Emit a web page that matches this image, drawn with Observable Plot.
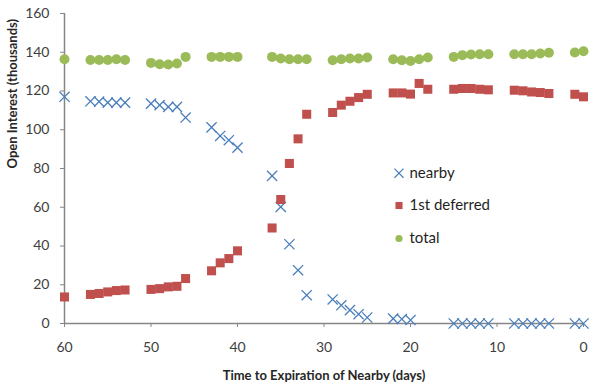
<!DOCTYPE html>
<html>
<head>
<meta charset="utf-8">
<script src="https://cdn.jsdelivr.net/npm/d3@7"></script>
<script src="https://cdn.jsdelivr.net/npm/@observablehq/plot@0.6"></script>
<style>
  html, body { margin: 0; padding: 0; background: #fff; }
  #chart { width: 600px; height: 387px; }
</style>
</head>
<body>
<div id="chart"></div>
<script>
// Days to expiration of the nearby contract
const days = [60, 57, 56, 55, 54, 53, 50, 49, 48, 47, 46, 43, 42, 41, 40,
  36, 35, 34, 33, 32, 29, 28, 27, 26, 25, 22, 21, 20, 19, 18,
  15, 14, 13, 12, 11, 8, 7, 6, 5, 4, 1, 0];

// Open interest (thousands)
const nearby = [117, 114.7, 114.5, 114, 114, 114, 113.5, 112.7, 111.8, 111.8, 106.3, 101.2, 96.8, 94.6, 90.8,
  76.2, 60.2, 40.9, 27.5, 14.6, 12.4, 9.4, 6.9, 4.8, 3.1, 2.5, 2.3, 1.8, null, null,
  0, 0, 0, 0, 0, 0, 0, 0, 0, 0, 0, 0];

const deferred = [13.7, 15, 15.5, 16.3, 17, 17.3, 17.6, 18, 18.9, 19.2, 23.2, 27.2, 31.3, 33.5, 37.5,
  49.3, 64, 82.6, 95.3, 108, 108.9, 112.7, 114.7, 116.6, 118.3, 119, 119, 118.4, 123.9, 120.9,
  120.9, 121.3, 121.3, 120.9, 120.6, 120.4, 120.1, 119.5, 119.2, 118.7, 118.3, 117];

const total = [136.4, 136, 136, 136, 136.4, 136, 134.5, 133.8, 133.7, 134.2, 137.6, 137.6, 137.6, 137.6, 137.6,
  137.6, 136.8, 136.4, 136.4, 136.4, 135.9, 136.4, 136.8, 136.8, 137.3, 136.4, 135.9, 135.5, 136.4, 137.3,
  137.6, 138.5, 138.8, 139, 139, 139, 139, 139, 139.4, 139.7, 139.9, 140.5];

const xTicks = [60, 50, 40, 30, 20, 10, 0];
const yTicks = [0, 20, 40, 60, 80, 100, 120, 140, 160];

const seriesNames = ["nearby", "1st deferred", "total"];
const seriesColors = ["#4a7ebb", "#c0504d", "#9bbb59"];
const seriesSymbols = ["times", "square", "circle"];

const xLabel = "Time to Expiration of Nearby (days)";
const yLabel = "Open Interest (thousands)";

function rows(values) {
  return days.map((d, i) => ({day: d, value: values[i]})).filter(r => r.value != null);
}

const axisColor = "#868686";
const textColor = "#404040";

function seriesMark(i, values) {
  const sym = seriesSymbols[i];
  const opts = {x: "day", y: "value", symbol: sym};
  if (sym === "times") {
    return Plot.dot(rows(values), {...opts, r: 4.7, stroke: seriesColors[i], strokeWidth: 1.3, fill: "none"});
  }
  return Plot.dot(rows(values), {...opts, r: sym === "square" ? 5.1 : 5, fill: seriesColors[i], stroke: "none"});
}

function legendMarks(i) {
  const sym = seriesSymbols[i];
  const dy = [159.7, 192, 225][i];
  const dotOpts = {frameAnchor: "top-left", dx: 334.5, dy, symbol: sym};
  const dot = sym === "times"
    ? Plot.dot([seriesNames[i]], {...dotOpts, r: 4.2, stroke: seriesColors[i], strokeWidth: 1.2, fill: "none"})
    : Plot.dot([seriesNames[i]], {...dotOpts, r: sym === "square" ? 4 : 3.6, fill: seriesColors[i], stroke: "none"});
  const txt = Plot.text([seriesNames[i]], {
    text: d => d, frameAnchor: "top-left", lineAnchor: "middle", dx: 345, dy, textAnchor: "start",
    fontSize: 15, fill: "#1f1f1f"
  });
  return [dot, txt];
}

const plot = Plot.plot({
  width: 600,
  height: 387,
  marginLeft: 64,
  marginRight: 17,
  marginTop: 13,
  marginBottom: 64,
  style: {fontFamily: "Lato, 'Open Sans', sans-serif", fontSize: "14px", background: "#fff", overflow: "visible"},
  x: {domain: [60, 0], label: null},
  y: {domain: [0, 160], label: null},
  marks: [
    Plot.axisX({ticks: xTicks, tickSize: 4, tickPadding: 15, stroke: axisColor, fill: textColor, label: null, fontSize: 14}),
    Plot.axisY({ticks: yTicks, tickSize: 4, tickPadding: 11, stroke: axisColor, fill: textColor, label: null, fontSize: 14}),
    Plot.ruleY([0], {stroke: axisColor, strokeWidth: 1.5}),
    Plot.ruleX([60], {stroke: axisColor, strokeWidth: 1.5}),
    seriesMark(0, nearby),
    seriesMark(1, deferred),
    seriesMark(2, total),
    ...legendMarks(0),
    ...legendMarks(1),
    ...legendMarks(2),
    Plot.text([xLabel], {text: d => d, frameAnchor: "bottom", lineAnchor: "middle", dy: 52, fontWeight: "bold", fontSize: 13, fill: "#262626"}),
    Plot.text([yLabel], {text: d => d, frameAnchor: "left", lineAnchor: "middle", dx: -52, rotate: -90, fontWeight: "bold", fontSize: 13, fill: "#262626"})
  ]
});

document.getElementById("chart").appendChild(plot);
</script>
</body>
</html>
